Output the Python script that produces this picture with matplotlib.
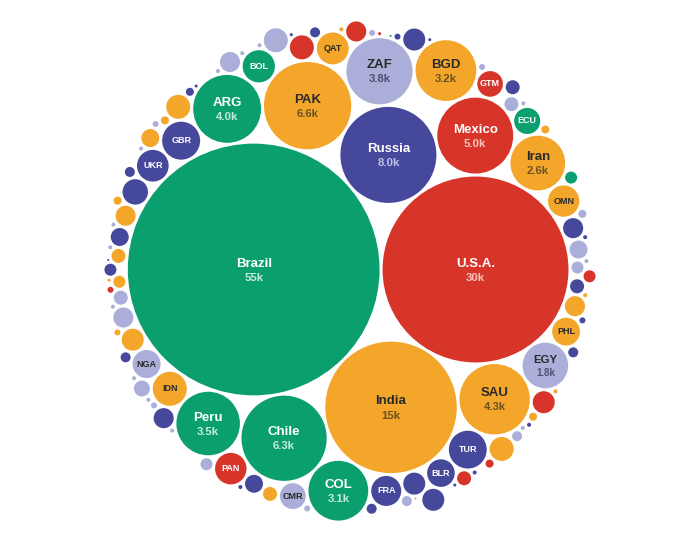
import numpy as np
import matplotlib.pyplot as plt
from matplotlib.patches import Circle

plt.rcParams['font.family'] = ['Liberation Sans', 'DejaVu Sans']

# labelled countries, values in thousands
names = ['Brazil', 'U.S.A.', 'India', 'Russia', 'PAK', 'Chile', 'Mexico', 'SAU', 'ARG', 'ZAF',
         'Peru', 'BGD', 'COL', 'Iran', 'EGY', 'GBR', 'TUR', 'IDN', 'BOL', 'QAT',
         'UKR', 'PAN', 'OMN', 'FRA', 'NGA', 'PHL', 'BLR', 'ECU', 'CMR', 'GTM']
values = [55, 30, 15, 8.0, 6.6, 6.3, 5.0, 4.3, 4.0, 3.8,
          3.5, 3.2, 3.1, 2.6, 1.8, 1.25, 1.24, 1.0, 0.9, 0.88,
          0.87, 0.86, 0.85, 0.78, 0.68, 0.67, 0.66, 0.59, 0.58, 0.57]
regions = ['SA', 'NA', 'AS', 'EU', 'AS', 'SA', 'NA', 'AS', 'SA', 'AF',
           'SA', 'AS', 'SA', 'AS', 'AF', 'EU', 'EU', 'AS', 'SA', 'AS',
           'EU', 'NA', 'AS', 'EU', 'AF', 'AS', 'EU', 'SA', 'AF', 'NA']

# the small unlabelled countries
other_regions = ['EU', 'AF', 'EU', 'EU', 'AS', 'NA', 'EU', 'EU', 'AS', 'EU', 'AS', 'AF', 'AF',
                 'AS', 'AS', 'EU', 'AS', 'AS', 'AF',
                 'EU', 'NA', 'AF', 'AS', 'EU', 'NA', 'EU', 'AF', 'AF', 'AS', 'AF', 'SA',
                 'AF', 'EU', 'EU', 'AS', 'AF', 'AF', 'EU', 'AF', 'AS', 'SA', 'EU', 'EU', 'EU',
                 'EU', 'AS', 'AF', 'AF',
                 'AF', 'NA', 'AS', 'AS', 'AF', 'EU', 'AF', 'NA', 'AF', 'AF', 'AF', 'NA',
                 'EU', 'EU', 'EU', 'AF', 'AS', 'AS', 'AS', 'AF', 'NA', 'AF', 'EU', 'EU', 'AF',
                 'AF', 'EU', 'AF', 'AF', 'AS', 'AF', 'AF', 'EU', 'AF', 'EU', 'AS', 'EU', 'NA', 'EU']
other_values = [0.35, 0.014, 0.008, 0.008, 0.5, 0.5, 0.087, 0.35, 0.031, 0.031, 0.42, 0.014, 0.014,
                0.014, 0.125, 0.17, 0.008, 0.056, 0.125,
                0.056, 0.42, 0.014, 0.28, 0.014, 0.125, 0.125, 0.17, 0.014, 0.35, 0.031, 0.125,
                0.014, 0.42, 0.087, 0.014, 0.014, 0.014, 0.087, 0.5, 0.056, 0.0035, 0.014, 0.28, 0.008,
                0.42, 0.056, 0.056, 0.17,
                0.031, 0.17, 0.35, 0.0035, 0.087, 0.0035, 0.031, 0.35, 0.014, 0.031, 0.28, 0.008,
                0.087, 0.42, 0.031, 0.35, 0.014, 0.17, 0.17, 0.014, 0.031, 0.125, 0.087, 0.17, 0.014,
                0.22, 0.014, 0.35, 0.031, 0.5, 0.087, 0.014, 0.28, 0.014, 0.014, 0.056, 0.56, 0.056, 0.008]

fill = {'SA': '#0b9f6f', 'NA': '#d8352a', 'AS': '#f3a62a', 'EU': '#46489b', 'AF': '#abaed9'}
name_col = {'SA': 'white', 'NA': 'white', 'AS': '#2a2a2a', 'EU': 'white', 'AF': '#2a2a2a'}
val_col = {'SA': '#c4ecd8', 'NA': '#f6c4bd', 'AS': '#6b5222', 'EU': '#bfc2ea', 'AF': '#4d5170'}

PAD = 1.5


def place(b, a, c):
    dx = b[0] - a[0]
    dy = b[1] - a[1]
    d2 = dx * dx + dy * dy
    if d2:
        a2 = (a[2] + c[2]) ** 2
        b2 = (b[2] + c[2]) ** 2
        if a2 > b2:
            x = (d2 + b2 - a2) / (2 * d2)
            y = np.sqrt(max(0, b2 / d2 - x * x))
            c[0] = b[0] - x * dx - y * dy
            c[1] = b[1] - x * dy + y * dx
        else:
            x = (d2 + a2 - b2) / (2 * d2)
            y = np.sqrt(max(0, a2 / d2 - x * x))
            c[0] = a[0] + x * dx - y * dy
            c[1] = a[1] + x * dy + y * dx
    else:
        c[0] = a[0] + c[2]
        c[1] = a[1]


def intersects(a, b):
    dr = a[2] + b[2] - 1e-6
    dx = b[0] - a[0]
    dy = b[1] - a[1]
    return dr > 0 and dr * dr > dx * dx + dy * dy


def pack_siblings(circles):
    # front-chain packing, same idea as d3.packSiblings
    n = len(circles)
    a, b = circles[0], circles[1]
    a[0], a[1] = -b[2], 0.0
    b[0], b[1] = a[2], 0.0
    place(b, a, circles[2])
    nxt = {0: 1, 1: 2, 2: 0}
    prv = {1: 0, 2: 1, 0: 2}
    A, B = 0, 1

    def score(node):
        p, q = circles[node], circles[nxt[node]]
        ab = p[2] + q[2]
        x = (p[0] * q[2] + q[0] * p[2]) / ab
        y = (p[1] * q[2] + q[1] * p[2]) / ab
        return x * x + y * y

    i = 3
    while i < n:
        c = circles[i]
        place(circles[A], circles[B], c)
        j, k = nxt[B], prv[A]
        sj, sk = circles[B][2], circles[A][2]
        hit = False
        while True:
            if sj <= sk:
                if intersects(circles[j], c):
                    B = j
                    nxt[A], prv[B] = B, A
                    hit = True
                    break
                sj += circles[j][2]
                j = nxt[j]
            else:
                if intersects(circles[k], c):
                    A = k
                    nxt[A], prv[B] = B, A
                    hit = True
                    break
                sk += circles[k][2]
                k = prv[k]
            if j == nxt[k]:
                break
        if hit:
            continue
        prv[i], nxt[i] = A, B
        nxt[A] = i
        prv[B] = i
        B = i
        aa = score(A)
        node = i
        while True:
            node = nxt[node]
            if node == B:
                break
            ca = score(node)
            if ca < aa:
                A, aa = node, ca
        B = nxt[A]
        i += 1
    return circles


all_names = names + [''] * len(other_values)
all_vals = np.array(values + other_values, dtype=float)
all_regs = regions + other_regions

order = np.argsort(-all_vals, kind='stable')
circles = [[0.0, 0.0, 17 * np.sqrt(all_vals[o]) + PAD] for o in order]
pack_siblings(circles)

pts = np.array(circles)
lo = (pts[:, :2] - pts[:, 2:3]).min(axis=0)
hi = (pts[:, :2] + pts[:, 2:3]).max(axis=0)
ctr = (lo + hi) / 2
R = (np.hypot(pts[:, 0] - ctr[0], pts[:, 1] - ctr[1]) + pts[:, 2]).max()
s = 256 / R

fig = plt.figure(figsize=(7, 5.42), dpi=100)
ax = fig.add_axes([0, 0, 1, 1])
ax.set_xlim(0, 700)
ax.set_ylim(542, 0)
ax.set_aspect('equal')
ax.axis('off')

for (x, y, r), o in zip(circles, order):
    cx = 350 + (x - ctr[0]) * s
    cy = 271 + (y - ctr[1]) * s
    rr = (r - PAD) * s
    reg = all_regs[o]
    ax.add_patch(Circle((cx, cy), rr, facecolor=fill[reg], edgecolor='none'))
    name = all_names[o]
    if not name:
        continue
    v = all_vals[o]
    if v >= 1.5:
        fs = min(9.5, 0.36 * rr)
        px = fs / 0.72
        vtxt = f'{v:.0f}k' if v >= 10 else f'{v:.1f}k'
        ax.text(cx, cy - 0.45 * px, name, ha='center', va='center', fontsize=fs,
                fontweight='bold', color=name_col[reg])
        ax.text(cx, cy + 0.62 * px, vtxt, ha='center', va='center', fontsize=fs * 0.86,
                fontweight='bold', color=val_col[reg])
    else:
        ax.text(cx, cy, name, ha='center', va='center', fontsize=6.5,
                fontweight='bold', color=name_col[reg])

fig.savefig('out.png', dpi=100)
